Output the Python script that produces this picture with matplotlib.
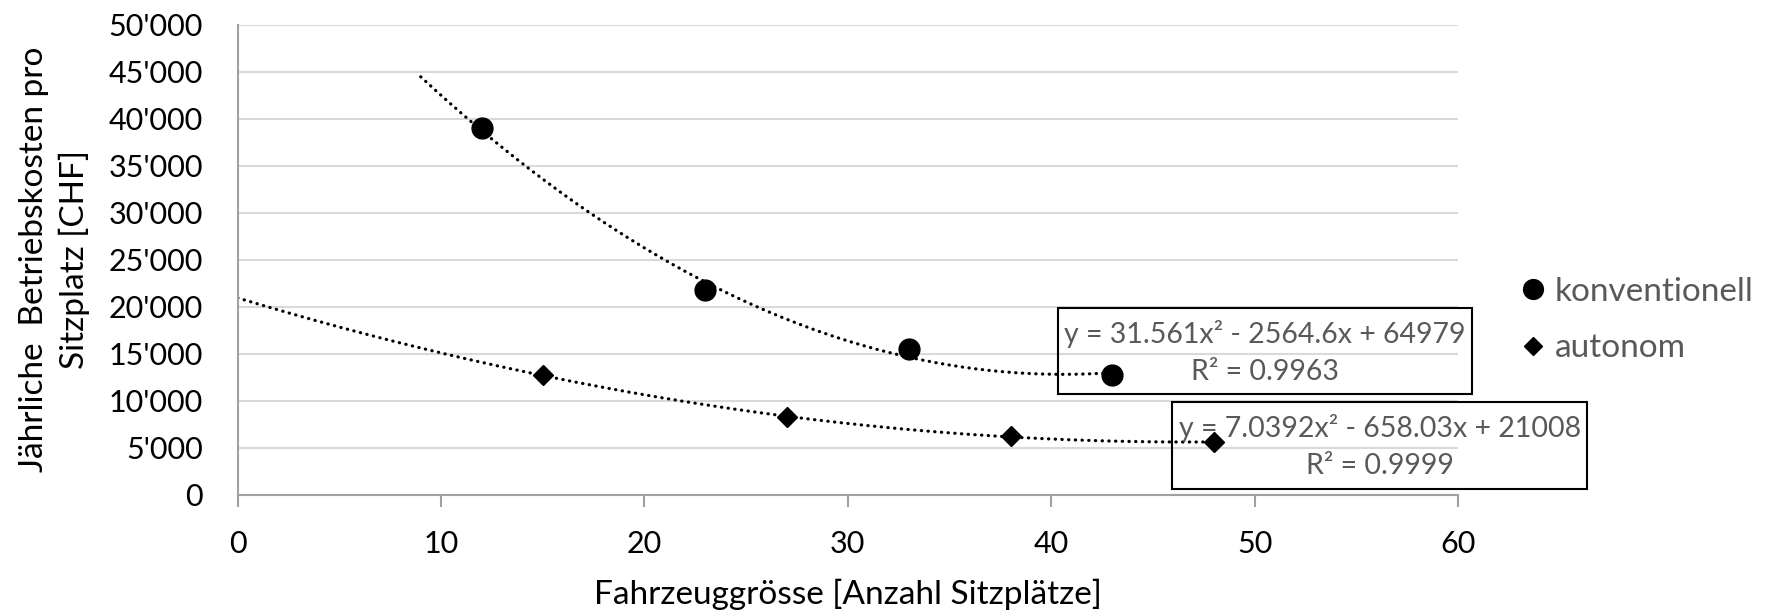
import numpy as np
import matplotlib
matplotlib.use('Agg')
import matplotlib.pyplot as plt
from matplotlib.patches import Rectangle
from matplotlib.ticker import FuncFormatter

plt.rcParams['font.family'] = ['Lato', 'DejaVu Sans']

# Data
konv_x = [12, 23, 33, 43]
konv_y = [39000, 21800, 15500, 12700]
auto_x = [15, 27, 38, 48]
auto_y = [12700, 8300, 6200, 5600]

konv_eq = 'y = 31.561x² - 2564.6x + 64979'
konv_r2 = 'R² = 0.9963'
auto_eq = 'y = 7.0392x² - 658.03x + 21008'
auto_r2 = 'R² = 0.9999'

x_ticks = [0, 10, 20, 30, 40, 50, 60]
y_ticks = [0, 5000, 10000, 15000, 20000, 25000, 30000, 35000, 40000, 45000, 50000]

text_gray = '#595959'

fig = plt.figure(figsize=(17.75, 6.16), dpi=100)
ax = fig.add_axes([0.1339, 0.1969, 0.6875, 0.7627])

# trendlines (2nd order polynomial, as in the Excel chart)
kc = np.polyfit(konv_x, konv_y, 2)
ac = np.polyfit(auto_x, auto_y, 2)
xk = np.linspace(9, konv_x[-1], 200)
xa = np.linspace(0, auto_x[-1], 300)
ax.plot(xk, np.polyval(kc, xk), color='black', lw=2.3,
        linestyle=(0, (0.1, 2.0)), dash_capstyle='round', zorder=2)
ax.plot(xa, np.polyval(ac, xa), color='black', lw=2.3,
        linestyle=(0, (0.1, 2.0)), dash_capstyle='round', zorder=2)

ax.plot(konv_x, konv_y, 'o', color='black', markersize=15, label='konventionell', zorder=3)
ax.plot(auto_x, auto_y, 'D', color='black', markersize=10, label='autonom', zorder=3)

ax.set_xlim(0, 60)
ax.set_ylim(0, 50000)
ax.set_xticks(x_ticks)
ax.set_yticks(y_ticks)
ax.yaxis.set_major_formatter(FuncFormatter(lambda v, p: f'{int(v):,}'.replace(',', "'")))
ax.grid(axis='y', color='#d9d9d9', lw=1.5)
ax.set_axisbelow(True)

for s in ['top', 'right']:
    ax.spines[s].set_visible(False)
for s in ['left', 'bottom']:
    ax.spines[s].set_color('#a0a0a0')
    ax.spines[s].set_linewidth(1.5)
ax.tick_params(axis='y', length=0, labelsize=22, pad=25)
ax.tick_params(axis='x', length=8.6, width=1.5, color='#a0a0a0', labelsize=22, pad=17)

ax.set_xlabel('Fahrzeuggrösse [Anzahl Sitzplätze]', fontsize=24, color='black')
ax.xaxis.set_label_coords(0.5, -0.179)
ax.set_ylabel('Jährliche  Betriebskosten pro\nSitzplatz [CHF]', fontsize=24,
              color='black', linespacing=1.4)
ax.yaxis.set_label_coords(-0.121, 0.5)

# equation boxes
boxes = [((0.672, 0.214), 0.3395, 0.183, konv_eq, konv_r2),
         ((0.766, 0.012), 0.340, 0.185, auto_eq, auto_r2)]
for (bx, by), w, h, eq, r2 in boxes:
    ax.add_patch(Rectangle((bx, by), w, h, transform=ax.transAxes, facecolor='none',
                           edgecolor='black', lw=1.5, clip_on=False, zorder=4))
    ax.text(bx + w / 2, by + h * 0.7, eq, transform=ax.transAxes, ha='center', va='center',
            fontsize=20.5, color=text_gray, zorder=5)
    ax.text(bx + w / 2, by + h * 0.26, r2, transform=ax.transAxes, ha='center', va='center',
            fontsize=20.5, color=text_gray, zorder=5)

leg = ax.legend(loc='center left', bbox_to_anchor=(0.857, 0.4805), bbox_transform=fig.transFigure,
                frameon=False, fontsize=24, labelcolor=text_gray, handletextpad=0.3,
                handlelength=0.7, markerscale=0.95, labelspacing=0.8,
                borderpad=0, borderaxespad=0)

fig.savefig('out.png', dpi=100)
